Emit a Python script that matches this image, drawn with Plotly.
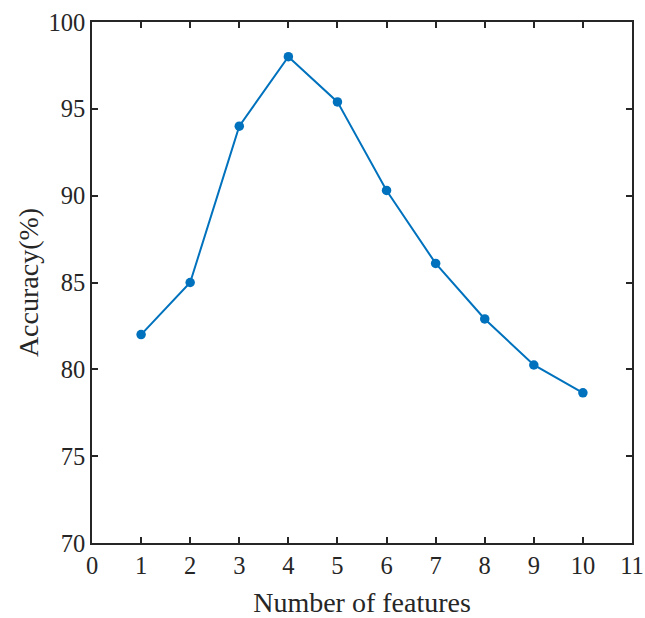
import plotly.graph_objects as go

num_features = [1, 2, 3, 4, 5, 6, 7, 8, 9, 10]
accuracy = [82.0, 85.0, 94.0, 98.0, 95.4, 90.3, 86.1, 82.9, 80.25, 78.65]
x_ticks = list(range(0, 12))
y_ticks = [70, 75, 80, 85, 90, 95, 100]

FONT = "Liberation Serif"
INK = "#262626"

fig = go.Figure()
fig.add_trace(go.Scatter(
    x=num_features, y=accuracy, mode="lines+markers",
    line=dict(color="#0072BD", width=2),
    marker=dict(color="#0072BD", size=9.5),
    showlegend=False,
))

axis_common = dict(
    showgrid=False, zeroline=False, showline=True, mirror="ticks",
    linecolor=INK, linewidth=1.5, ticks="inside", ticklen=6,
    tickwidth=1.5, tickcolor=INK, automargin=False,
    tickfont=dict(family=FONT, size=24.5, color=INK),
)
fig.update_xaxes(range=[0, 11], tickvals=x_ticks,
                 title=dict(text="Number of features", standoff=16,
                            font=dict(family=FONT, size=28, color=INK)),
                 **axis_common)
fig.update_yaxes(range=[70, 100], tickvals=y_ticks,
                 title=dict(text="Accuracy(%)", standoff=2,
                            font=dict(family=FONT, size=28, color=INK)),
                 **axis_common)
fig.update_layout(
    width=645, height=618,
    margin=dict(l=92, r=13, t=22, b=75),
    plot_bgcolor="white", paper_bgcolor="white",
)
fig.write_html(
    "out.html",
    config={"displayModeBar": False},
    post_script="document.body.style.margin='0';document.body.style.overflow='hidden';",
)
